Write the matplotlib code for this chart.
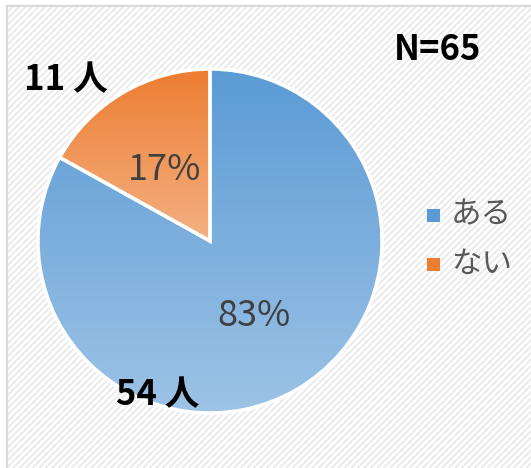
import numpy as np
import matplotlib
matplotlib.use("Agg")
import matplotlib.pyplot as plt
from matplotlib.colors import LinearSegmentedColormap
from matplotlib.patches import Rectangle
from matplotlib.collections import LineCollection

plt.rcParams['font.family'] = ['Noto Sans CJK JP', 'DejaVu Sans']

# DATA
labels = ["ある", "ない"]
counts = [54, 11]
count_labels = ["54 人", "11 人"]
total_label = "N=65"
top_colors = ["#5B9BD5", "#ED7D31"]
bottom_colors = ["#9DC3E6", "#F4B183"]

bold_fam = ['Liberation Sans Narrow', 'Noto Sans CJK JP', 'DejaVu Sans']

W, H = 531, 468
fig = plt.figure(figsize=(W / 100, H / 100), dpi=100)
ax = fig.add_axes([0, 0, 1, 1])
ax.set_xlim(0, W)
ax.set_ylim(0, H)
ax.set_aspect("equal")
ax.axis("off")

# background: light diagonal stripes and a gray frame on top/left
frame = Rectangle((7, -5), W, H - 1, facecolor="white", edgecolor="#D9D9D9",
                  linewidth=1.6, zorder=1)
ax.add_patch(frame)
step = 6.5
offs = np.arange(-H, W + H, step)
segs = [[(o, 0), (o + H, H)] for o in offs]
stripes = LineCollection(segs, colors="#EBEBEB", linewidths=1.4, zorder=1.5)
ax.add_collection(stripes)
stripes.set_clip_path(Rectangle((8, -5), W, H - 2, transform=ax.transData))

cx, cy, r = 210, H - 241, 172
wedges, _ = ax.pie(counts, startangle=90, counterclock=False, center=(cx, cy),
                   radius=r, wedgeprops=dict(edgecolor="white", linewidth=2.5))

# vertical gradient fill for each slice
for w, c1, c2 in zip(wedges, top_colors, bottom_colors):
    bb = w.get_path().get_extents(w.get_transform() - ax.transData)
    cmap = LinearSegmentedColormap.from_list("g", [c1, c2])
    grad = np.linspace(0, 1, 256).reshape(-1, 1)
    im = ax.imshow(grad, cmap=cmap, aspect="auto", origin="upper",
                   extent=[bb.x0, bb.x1, bb.y0, bb.y1], zorder=2)
    im.set_clip_path(w)
    w.set_facecolor("none")
    w.set_zorder(3)
ax.set_xlim(0, W)
ax.set_ylim(0, H)
ax.set_aspect("equal")

# percentage labels
pcts = [c / sum(counts) * 100 for c in counts]
ax.text(254, H - 316, f"{pcts[0]:.0f}%", fontsize=26, color="#404040",
        ha="center", va="center", zorder=4)
ax.text(165, H - 170, f"{pcts[1]:.0f}%", fontsize=26, color="#404040",
        ha="center", va="center", zorder=4)

# count labels
ax.text(158, H - 395, count_labels[0], fontsize=25, fontweight="bold", family=bold_fam,
        ha="center", va="center", zorder=4)
ax.text(66, H - 80, count_labels[1], fontsize=25, fontweight="bold", family=bold_fam,
        ha="center", va="center", zorder=4)
ax.text(438, H - 50, total_label, fontsize=25, fontweight="bold", family=bold_fam,
        ha="center", va="center", zorder=4)

# legend
for i, (lab, c) in enumerate(zip(labels, top_colors)):
    y = H - (215 + i * 49)
    ax.add_patch(Rectangle((427, y - 6.5), 13, 13, facecolor=c, edgecolor="none", zorder=4))
    ax.text(451, y, lab, fontsize=22, color="#595959", ha="left", va="center", zorder=4)

fig.savefig("out.png", dpi=100)
